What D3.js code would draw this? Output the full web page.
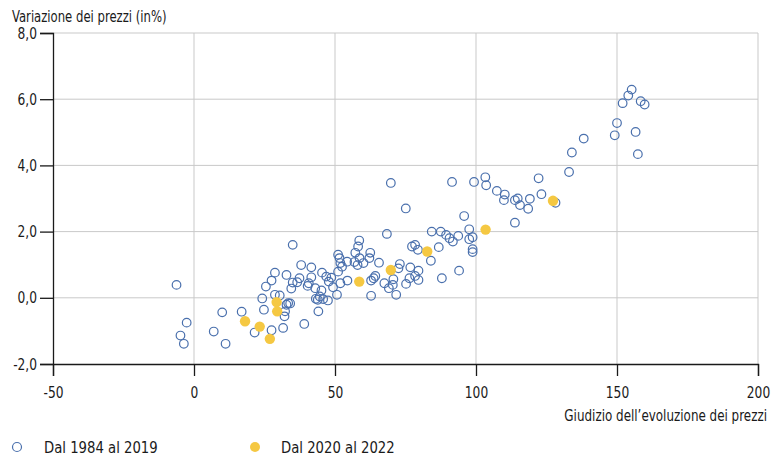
<!DOCTYPE html>
<html>
<head>
<meta charset="utf-8">
<script src="https://cdn.jsdelivr.net/npm/d3@7"></script>
<style>
  html, body { margin: 0; padding: 0; background: #fff; }
  svg { display: block; font-family: "Liberation Sans Narrow", "DejaVu Sans Condensed", sans-serif; }
</style>
</head>
<body>
<div id="chart"></div>
<script>
// 1984-2019: judgement of price trend (x) vs price change in % (y)
const pastX = [-6.2, -2.6, -4.8, -3.6, 7.0, 10.0, 11.2, 16.9, 21.5, 27.5, 31.6, 32.1, 32.3, 24.8, 24.2,
  28.7, 30.4, 33.4, 32.8, 34.1, 25.5, 27.5, 28.7, 32.8, 35.0, 34.5, 36.6, 37.4, 35.0, 38.0,
  41.6, 40.7, 40.3, 41.6, 43.0, 45.2, 43.9, 44.6, 45.8, 47.5, 43.2, 44.1, 39.1, 45.4, 46.9,
  48.7, 47.8, 49.3, 50.7, 51.9, 54.4, 51.1, 51.1, 51.6, 51.9, 52.5, 54.3, 57.2, 58.6, 58.2,
  56.9, 58.0, 58.7, 60.1, 62.5, 62.2, 65.6, 62.8, 63.7, 67.5, 62.8, 69.1, 68.4, 69.8, 91.5,
  99.3, 103.3, 103.6, 107.4, 110.2, 109.9, 113.8, 114.8, 115.6, 118.5, 119.1, 122.2, 123.2, 128.2, 133.0,
  134.0, 138.2, 113.8, 75.1, 95.8, 97.6, 84.3, 87.5, 89.4, 90.6, 91.8, 93.7, 97.6, 98.8, 98.8,
  98.8, 77.3, 78.4, 79.4, 86.8, 84.0, 73.0, 72.5, 76.7, 79.6, 94.0, 87.9, 78.4, 76.4, 79.6,
  70.7, 70.5, 71.7, 75.2, 64.3, 155.2, 154.0, 152.0, 158.4, 159.8, 150.0, 149.2, 156.6, 157.4];
const pastY = [0.39, -0.75, -1.14, -1.39, -1.02, -0.44, -1.39, -0.42, -1.05, -0.98, -0.91, -0.56, -0.41, -0.36, -0.02,
  0.09, 0.07, -0.16, -0.21, -0.17, 0.34, 0.52, 0.76, 0.69, 0.46, 0.28, 0.47, 0.59, 1.60, 0.99,
  0.92, 0.44, 0.36, 0.62, 0.29, 0.22, -0.06, 0.04, -0.04, -0.08, -0.03, -0.41, -0.79, 0.76, 0.64,
  0.61, 0.49, 0.32, 0.09, 0.44, 0.52, 0.79, 1.30, 1.20, 1.05, 0.94, 1.09, 1.36, 1.73, 1.55,
  1.08, 0.99, 1.20, 1.05, 1.36, 1.20, 1.06, 0.52, 0.59, 0.44, 0.06, 0.29, 1.93, 3.47, 3.50,
  3.50, 3.64, 3.40, 3.23, 3.12, 2.95, 2.95, 3.00, 2.80, 2.69, 2.99, 3.61, 3.13, 2.87, 3.80,
  4.39, 4.81, 2.27, 2.70, 2.47, 2.07, 2.00, 2.00, 1.90, 1.80, 1.70, 1.87, 1.77, 1.83, 1.47,
  1.38, 1.55, 1.60, 1.45, 1.53, 1.12, 1.02, 0.89, 0.92, 0.82, 0.82, 0.59, 0.66, 0.59, 0.54,
  0.56, 0.39, 0.09, 0.42, 0.66, 6.29, 6.11, 5.88, 5.94, 5.84, 5.28, 4.91, 5.01, 4.34];

// 2020-2022
const recentX = [18.1, 23.3, 26.9, 29.3, 29.5, 58.6, 69.8, 82.7, 103.4, 127.3];
const recentY = [-0.71, -0.87, -1.24, -0.13, -0.41, 0.49, 0.84, 1.40, 2.06, 2.93];

const xTicks = [-50, 0, 50, 100, 150, 200];
const yTicks = [-2, 0, 2, 4, 6, 8];
const yTitle = "Variazione dei prezzi (in%)";
const xTitle = "Giudizio dell\u2019evoluzione dei prezzi";
const seriesNames = ["Dal 1984 al 2019", "Dal 2020 al 2022"];

const width = 783, height = 459;
const margin = { top: 33, right: 25, bottom: 95, left: 53 };

const blue = "#4a70ad";
const yellow = "#f5c842";
const gridColor = "#c9c9c9";
const axisColor = "#1a1a1a";
const textColor = "#1a1a1a";
const squeeze = 0.85; // the original uses a condensed face, narrower than ours

const svg = d3.select("#chart").append("svg")
    .attr("width", width)
    .attr("height", height);

const x = d3.scaleLinear().domain([-50, 200]).range([margin.left, width - margin.right]);
const y = d3.scaleLinear().domain([-2, 8]).range([height - margin.bottom, margin.top]);

const fmt = v => d3.format(".1f")(v).replace(".", ",").replace("\u2212", "-");

// condensed label: text placed at (px,py), squeezed horizontally around its anchor
function label(parent, px, py, str, anchor = "start", sx = squeeze, size = 16) {
    return parent.append("text")
        .attr("transform", `translate(${px},${py}) scale(${sx},1)`)
        .attr("text-anchor", anchor)
        .attr("fill", textColor)
        .style("font-size", size + "px")
        .text(str);
}

// gridlines
svg.append("g")
    .selectAll("line")
    .data(yTicks.filter(d => d !== -2))
    .join("line")
    .attr("x1", margin.left).attr("x2", width - margin.right)
    .attr("y1", d => y(d)).attr("y2", d => y(d))
    .attr("stroke", gridColor).attr("stroke-width", 1);

svg.append("g")
    .selectAll("line")
    .data(xTicks.filter(d => d !== -50))
    .join("line")
    .attr("x1", d => x(d)).attr("x2", d => x(d))
    .attr("y1", margin.top).attr("y2", height - margin.bottom)
    .attr("stroke", gridColor).attr("stroke-width", 1);

// axes
const xAxis = svg.append("g")
    .attr("transform", `translate(0,${height - margin.bottom})`)
    .call(d3.axisBottom(x).tickValues(xTicks).tickSize(12).tickPadding(11).tickFormat(d => String(d)));

const yAxis = svg.append("g")
    .attr("transform", `translate(${margin.left},0)`)
    .call(d3.axisLeft(y).tickValues(yTicks).tickSize(13).tickPadding(3).tickFormat(fmt));

[xAxis, yAxis].forEach(a => {
    a.select(".domain").attr("stroke", axisColor).attr("stroke-width", 1.3);
    a.selectAll(".tick line").attr("stroke", axisColor).attr("stroke-width", 1.3);
    a.selectAll(".tick text")
        .attr("fill", textColor)
        .style("font-size", "16px")
        .style("font-family", "\"Liberation Sans Narrow\", \"DejaVu Sans Condensed\", sans-serif");
});
// squeeze tick labels like the rest of the text
xAxis.selectAll(".tick text").attr("transform", `scale(${squeeze},1)`);
yAxis.selectAll(".tick text")
    .attr("x", -16 / squeeze)
    .attr("transform", `scale(${squeeze},1)`);

// points
svg.append("g")
    .selectAll("circle")
    .data(d3.zip(pastX, pastY))
    .join("circle")
    .attr("cx", d => x(d[0]))
    .attr("cy", d => y(d[1]))
    .attr("r", 4.3)
    .attr("fill", "none")
    .attr("stroke", blue)
    .attr("stroke-width", 1.2);

svg.append("g")
    .selectAll("circle")
    .data(d3.zip(recentX, recentY))
    .join("circle")
    .attr("cx", d => x(d[0]))
    .attr("cy", d => y(d[1]))
    .attr("r", 5.2)
    .attr("fill", yellow);

// titles
label(svg, 12, 22, yTitle, "start", 0.81);
label(svg, width - 16, 421, xTitle, "end", 0.83);

// legend
const legend = svg.append("g").attr("transform", "translate(0,447)");
legend.append("circle")
    .attr("cx", 17).attr("cy", 0).attr("r", 4.5)
    .attr("fill", "none").attr("stroke", blue).attr("stroke-width", 1.2);
label(legend, 44, 6, seriesNames[0], "start", 0.92);
legend.append("circle")
    .attr("cx", 255).attr("cy", 0).attr("r", 5)
    .attr("fill", yellow);
label(legend, 281, 6, seriesNames[1], "start", 0.92);
</script>
</body>
</html>
